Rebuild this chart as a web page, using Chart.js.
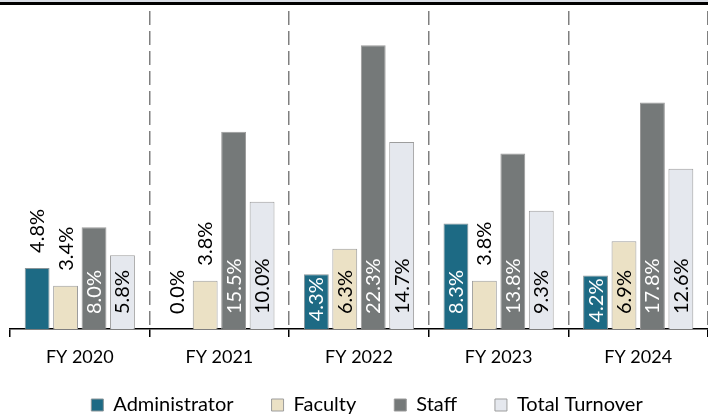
<!DOCTYPE html>
<html lang="en">
<head>
<meta charset="UTF-8">
<title>Turnover by Fiscal Year</title>
<script src="https://cdn.jsdelivr.net/npm/chart.js"></script>
<style>
  html, body { margin: 0; padding: 0; background: #fff; }
  .wrap { position: relative; width: 708px; height: 418px; }
  .top-band { position: absolute; left: 0; top: 0; width: 708px; height: 2px; background: #d9dde4; }
  .top-rule { position: absolute; left: 0; top: 2px; width: 708px; height: 3px; background: #000; }
</style>
</head>
<body>
<div class="wrap">
  <canvas id="myChart" width="708" height="418"></canvas>
  <div class="top-band"></div>
  <div class="top-rule"></div>
</div>
<script>
  // data
  const years = ['FY 2020', 'FY 2021', 'FY 2022', 'FY 2023', 'FY 2024'];
  const administrator = [4.8, 0.0, 4.3, 8.3, 4.2];
  const faculty = [3.4, 3.8, 6.3, 3.8, 6.9];
  const staff = [8.0, 15.5, 22.3, 13.8, 17.8];
  const totalTurnover = [5.8, 10.0, 14.7, 9.3, 12.6];

  // labels that sit above the bar instead of inside it (dataset index -> bar indexes)
  const labelsAbove = { 0: [0, 1], 1: [0, 1, 3] };
  const insideColors = ['#ffffff', '#000000', '#ffffff', '#000000'];

  const labelFont = '20px Lato';

  const barLabels = {
    id: 'barLabels',
    afterDatasetsDraw(chart) {
      const ctx = chart.ctx;
      chart.data.datasets.forEach((ds, di) => {
        const meta = chart.getDatasetMeta(di);
        meta.data.forEach((bar, i) => {
          const text = ds.data[i].toFixed(1) + '%';
          ctx.save();
          ctx.font = labelFont;
          const w = ctx.measureText(text).width;
          const above = (labelsAbove[di] || []).includes(i);
          let bottom;
          if (above) {
            bottom = bar.y - 15;
            ctx.fillStyle = '#000';
          } else {
            bottom = bar.base - 15;
            if (bottom - w < bar.y + 3) bottom = bar.y + 3 + w;
            ctx.fillStyle = insideColors[di];
          }
          ctx.translate(bar.x, bottom);
          ctx.rotate(-Math.PI / 2);
          ctx.textAlign = 'left';
          ctx.textBaseline = 'alphabetic';
          ctx.fillText(text, 0, 7);
          ctx.restore();
        });
      });
    }
  };

  // put the legend where the original has it (a bit right, tucked under the axis labels)
  const legendPlace = {
    id: 'legendPlace',
    afterLayout(chart) {
      const lg = chart.legend;
      const h = lg.bottom - lg.top;
      lg.left += 6;
      lg.right += 6;
      lg.top = 357;
      lg.bottom = 357 + h;
    }
  };

  const ctx = document.getElementById('myChart').getContext('2d');
  const myChart = new Chart(ctx, {
    type: 'bar',
    data: {
      labels: years,
      datasets: [
        { label: 'Administrator', data: administrator, backgroundColor: '#1d6a84', borderColor: '#8a9599', borderWidth: 1 },
        { label: 'Faculty', data: faculty, backgroundColor: '#ebe1c5', borderColor: '#9d9d9d', borderWidth: 1 },
        { label: 'Staff', data: staff, backgroundColor: '#757979', borderColor: '#9a9a9a', borderWidth: 1 },
        { label: 'Total Turnover', data: totalTurnover, backgroundColor: '#e5e8ee', borderColor: '#9d9d9d', borderWidth: 1 }
      ]
    },
    options: {
      responsive: false,
      animation: false,
      events: [],
      layout: { padding: { left: 10, right: -4, top: 11, bottom: -25 } },
      datasets: {
        bar: { categoryPercentage: 0.815, barPercentage: 0.874, borderSkipped: 'bottom' }
      },
      scales: {
        x: {
          grid: {
            offset: true,
            color: c => c.index === 0 ? 'rgba(0,0,0,0)' : '#7f7f7f',
            lineWidth: 1.5,
            tickColor: '#000',
            tickWidth: 1.5,
            tickLength: 8
          },
          border: { display: true, color: '#000', width: 1.5, dash: [14, 6] },
          ticks: { color: '#000', font: { family: 'Lato', size: 18 }, padding: 9 },
          afterFit: scale => { scale.height = 46; }
        },
        y: {
          display: false,
          min: 0,
          max: 25
        }
      },
      plugins: {
        legend: {
          position: 'bottom',
          labels: {
            boxWidth: 12,
            boxHeight: 12,
            padding: 38,
            color: '#000',
            font: { family: 'Lato', size: 20 }
          }
        },
        tooltip: { enabled: false }
      }
    },
    plugins: [barLabels, legendPlace]
  });
</script>
</body>
</html>
